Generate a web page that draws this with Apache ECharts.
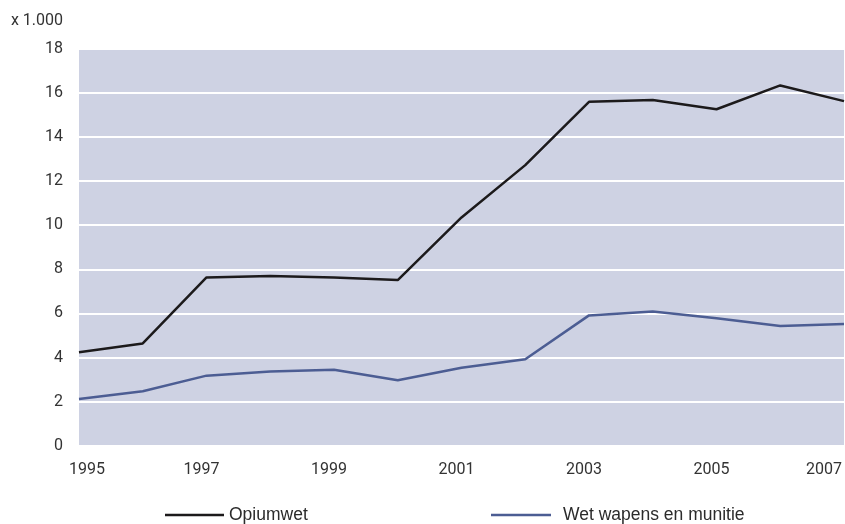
<!DOCTYPE html>
<html>
<head>
<meta charset="utf-8">
<script src="https://cdn.jsdelivr.net/npm/echarts@6/dist/echarts.min.js"></script>
<style>html,body{margin:0;padding:0;background:#fff}#c{width:845px;height:524px}</style>
</head>
<body>
<div id="c"></div>
<script>
var years = ['1995','1996','1997','1998','1999','2000','2001','2002','2003','2004','2005','2006','2007'];
var opiumwet = [4.24, 4.64, 7.63, 7.69, 7.63, 7.51, 10.35, 12.72, 15.59, 15.67, 15.25, 16.33, 15.62];
var wapens = [2.12, 2.47, 3.18, 3.37, 3.45, 2.97, 3.54, 3.92, 5.91, 6.09, 5.78, 5.43, 5.52];
var yTicks = [0, 2, 4, 6, 8, 10, 12, 14, 16, 18];
var seriesNames = ['Opiumwet', 'Wet wapens en munitie'];
var unitLabel = 'x 1.000';

var chart = echarts.init(document.getElementById('c'), null, {renderer: 'canvas'});
var font = 'Roboto';
var legFont = '"Liberation Sans", Arial, sans-serif';
chart.setOption({
  animation: false,
  backgroundColor: '#ffffff',
  grid: {left: 79, right: 0, top: 48.6, bottom: 78.2, show: true, backgroundColor: '#ced2e3', borderWidth: 0},
  graphic: [{type: 'text', right: 782, top: 13, style: {text: unitLabel, font: '16px Roboto', fill: '#333', textAlign: 'right'}}],
  legend: [
    {data: [seriesNames[0]], left: 165, top: 506, padding: 0, icon: 'rect', itemWidth: 59, itemHeight: 2.5,
     textStyle: {fontFamily: legFont, fontSize: 17.5, lineHeight: 18, color: '#2b2b2b'}},
    {data: [seriesNames[1]], left: 491, top: 506, padding: 0, icon: 'rect', itemWidth: 60, itemHeight: 2.5,
     textStyle: {fontFamily: legFont, fontSize: 17.5, lineHeight: 18, color: '#2b2b2b', padding: [0,0,0,7]}}
  ],
  xAxis: {
    type: 'category', data: years, boundaryGap: false,
    axisLine: {show: false}, axisTick: {show: false}, splitLine: {show: false},
    axisLabel: {
      interval: 1, margin: 16, showMinLabel: true, showMaxLabel: true,
      formatter: function (v, i) {
        if (i === 0) return '{l|' + v + '}';
        if (i === years.length - 1) return '{r|' + v + '}';
        return '{m|' + v + '}';
      },
      rich: {
        l: {fontFamily: font, fontSize: 16, color: '#333', padding: [0, 0, 0, 16]},
        m: {fontFamily: font, fontSize: 16, color: '#333', padding: [0, 10, 0, 0]},
        r: {fontFamily: font, fontSize: 16, color: '#333', padding: [0, 40, 0, 0]}
      }
    }
  },
  yAxis: {
    type: 'value', min: yTicks[0], max: yTicks[yTicks.length - 1], interval: 2,
    axisLine: {show: false}, axisTick: {show: false},
    axisLabel: {fontFamily: font, fontSize: 16, color: '#333', margin: 16},
    splitLine: {show: true, lineStyle: {color: '#ffffff', width: 2}}
  },
  series: [
    {name: seriesNames[0], type: 'line', data: opiumwet, symbol: 'none', color: '#1c1a1b', lineStyle: {width: 2.5, color: '#1c1a1b'}},
    {name: seriesNames[1], type: 'line', data: wapens, symbol: 'none', color: '#4c5d93', lineStyle: {width: 2.5, color: '#4c5d93'}}
  ]
});
</script>
</body>
</html>
